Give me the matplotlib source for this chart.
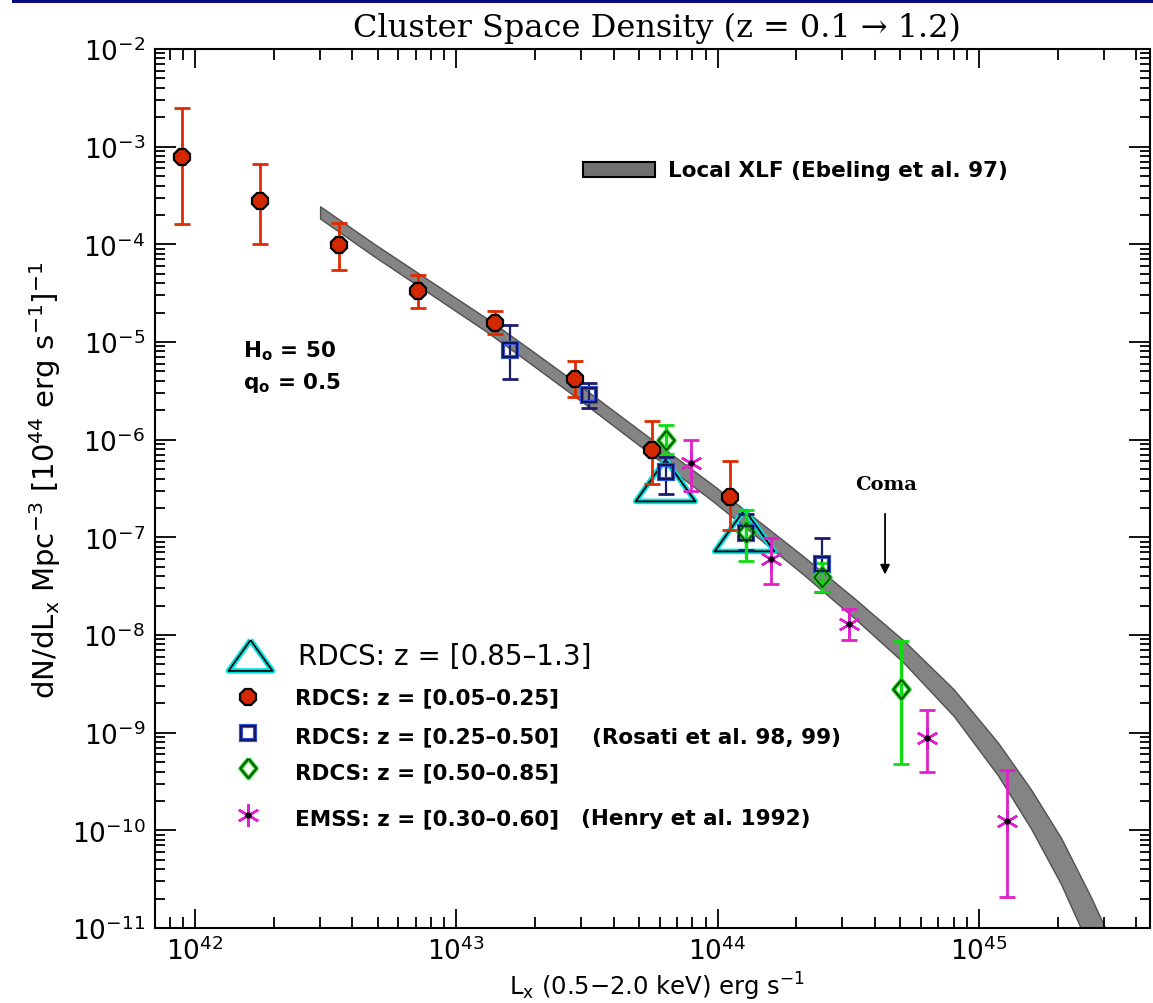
import numpy as np
import matplotlib
matplotlib.use('Agg')
import matplotlib.pyplot as plt
from matplotlib.ticker import LogLocator, FuncFormatter, NullFormatter, FixedLocator
from matplotlib.patches import Rectangle

plt.rcParams['font.family'] = ['DejaVu Sans']
plt.rcParams['mathtext.fontset'] = 'dejavusans'
plt.rcParams['mathtext.default'] = 'regular'

# ---------------- data ----------------
# Local XLF band (Ebeling et al. 97): lower / upper edges
xlf_L  = [3.012e42, 4.809e42, 7.95e42, 1.315e43, 1.92e43, 2.857e43, 4.25e43,
          6.322e43, 9.654e43, 1.374e44, 2.136e44, 3.32e44, 5.159e44, 8.02e44,
          1.182e45, 1.582e45, 2.062e45, 2.686e45, 3.204e45]
xlf_hi = [2.450e-4, 1.027e-4, 4.207e-5, 1.728e-5, 8.37e-6, 3.87e-6, 1.748e-6,
          7.87e-7, 3.394e-7, 1.609e-7, 6.35e-8, 2.404e-8, 8.75e-9, 2.774e-9,
          7.94e-10, 2.63e-10, 8.40e-11, 2.068e-11, 7.43e-12]
xlf_lo = [1.838e-4, 7.65e-5, 3.11e-5, 1.26e-5, 6.03e-6, 2.75e-6, 1.224e-6,
          5.46e-7, 2.315e-7, 1.08e-7, 4.143e-8, 1.508e-8, 5.195e-9, 1.477e-9,
          3.673e-10, 1.048e-10, 2.823e-11, 5.87e-12, 1.954e-12]

# RDCS z = [0.05-0.25]
red_L  = [8.9e41, 1.77e42, 3.57e42, 7.13e42, 1.41e43, 2.84e43, 5.63e43, 1.12e44]
red_n  = [7.9e-4, 2.77e-4, 9.8e-5, 3.35e-5, 1.55e-5, 4.2e-6, 7.9e-7, 2.6e-7]
red_hi = [2.47e-3, 6.6e-4, 1.66e-4, 4.8e-5, 2.07e-5, 6.4e-6, 1.55e-6, 6.05e-7]
red_lo = [1.6e-4, 1.0e-4, 5.4e-5, 2.24e-5, 1.22e-5, 2.74e-6, 3.55e-7, 1.2e-7]

# RDCS z = [0.25-0.50]
blue_L  = [1.61e43, 3.21e43, 6.36e43, 1.28e44, 2.52e44]
blue_n  = [8.2e-6, 2.85e-6, 4.68e-7, 1.12e-7, 5.28e-8]
blue_hi = [1.51e-5, 3.76e-6, 6.7e-7, 1.74e-7, 9.9e-8]
blue_lo = [4.2e-6, 2.12e-6, 2.8e-7, 7.4e-8, 2.76e-8]

# RDCS z = [0.50-0.85]
green_L  = [6.36e43, 1.28e44, 2.52e44, 5.02e44]
green_n  = [9.9e-7, 1.13e-7, 3.93e-8, 2.82e-9]
green_hi = [1.41e-6, 1.9e-7, 5.5e-8, 8.7e-9]
green_lo = [7.2e-7, 5.7e-8, 2.76e-8, 4.75e-10]

# EMSS z = [0.30-0.60]
mag_L  = [7.93e43, 1.6e44, 3.18e44, 6.32e44, 1.28e45]
mag_n  = [5.78e-7, 6.05e-8, 1.29e-8, 8.87e-10, 1.26e-10]
mag_hi = [1.0e-6, 9.9e-8, 1.86e-8, 1.72e-9, 4.1e-10]
mag_lo = [2.96e-7, 3.36e-8, 8.8e-9, 3.96e-10, 2.07e-11]

# RDCS z = [0.85-1.3]
cyan_L = [6.32e43, 1.26e44]
cyan_n = [3.9e-7, 1.2e-7]

# axis decades that carry labels
x_decades = [1e42, 1e43, 1e44, 1e45]
y_decades = [1e-11, 1e-10, 1e-9, 1e-8, 1e-7, 1e-6, 1e-5, 1e-4, 1e-3, 1e-2]

legend_labels = ['RDCS: z = [0.85\u20131.3]', 'RDCS: z = [0.05\u20130.25]',
                 'RDCS: z = [0.25\u20130.50]', 'RDCS: z = [0.50\u20130.85]',
                 'EMSS: z = [0.30\u20130.60]']

# ---------------- figure ----------------
W, H = 1153, 1004
fig = plt.figure(figsize=(W / 100, H / 100), dpi=100)
ax = fig.add_axes([155 / W, 1 - 929 / H, (1150 - 155) / W, (929 - 50) / H])
ax.set_xscale('log')
ax.set_yscale('log')
ax.set_xlim(10 ** 41.847, 10 ** 45.655)
ax.set_ylim(1e-11, 1e-2)

# navy strip at top of the slide
fig.patches.append(Rectangle((12 / W, 1 - 3.5 / H), 1, 3.5 / H, transform=fig.transFigure,
                             facecolor='#0b0b82', edgecolor='none'))

# band
ax.fill_between(xlf_L, xlf_lo, xlf_hi, facecolor='#848484', edgecolor='#505050',
                linewidth=1.0, zorder=1)


def errbars(L, n, lo, hi, color, capcolor, lw=2.0):
    n = np.asarray(n); lo = np.asarray(lo); hi = np.asarray(hi)
    eb = ax.errorbar(L, n, yerr=[n - lo, hi - n], fmt='none', ecolor=color,
                     elinewidth=lw, capsize=6, capthick=2.0, zorder=3)
    for c in eb[1]:
        c.set_color(capcolor)


tri = [(0, 0.7), (-1, -0.7), (1, -0.7), (0, 0.7)]
dia = [(0, 1.2), (1, 0), (0, -1.2), (-1, 0), (0, 1.2)]

# cyan triangles (behind other points)
ax.plot(cyan_L, cyan_n, linestyle='none', marker=tri, markersize=43,
        markerfacecolor='none', markeredgecolor='#00e0e0', markeredgewidth=4, zorder=2)
ax.plot(cyan_L, cyan_n, linestyle='none', marker=tri, markersize=43,
        markerfacecolor='none', markeredgecolor='black', markeredgewidth=1.3, zorder=2.1)

# red
errbars(red_L, red_n, red_lo, red_hi, '#e02a00', 'black')
ax.plot(red_L, red_n, linestyle='none', marker='8', markersize=12,
        markerfacecolor='#d42800', markeredgecolor='black', markeredgewidth=1.6, zorder=5)
# blue
errbars(blue_L, blue_n, blue_lo, blue_hi, '#1c1c6e', '#101040', lw=1.6)
ax.plot(blue_L, blue_n, linestyle='none', marker='s', markersize=10,
        markerfacecolor='none', markeredgecolor='#3050e0', markeredgewidth=3, zorder=5)
ax.plot(blue_L, blue_n, linestyle='none', marker='s', markersize=10,
        markerfacecolor='none', markeredgecolor='#101040', markeredgewidth=1.3, zorder=5.1)
# green
errbars(green_L, green_n, green_lo, green_hi, '#10dd10', '#0a500a', lw=2.4)
ax.plot(green_L, green_n, linestyle='none', marker=dia, markersize=14,
        markerfacecolor='none', markeredgecolor='#10dd10', markeredgewidth=3, zorder=5)
ax.plot(green_L, green_n, linestyle='none', marker=dia, markersize=14,
        markerfacecolor='none', markeredgecolor='#0a400a', markeredgewidth=1.2, zorder=5.1)
# magenta
errbars(mag_L, mag_n, mag_lo, mag_hi, '#e020c8', '#400030', lw=2.0)
ax.plot(mag_L, mag_n, linestyle='none', marker=(6, 2, 0), markersize=16,
        markeredgecolor='#e020d0', markeredgewidth=1.8, zorder=5)
ax.plot(mag_L, mag_n, linestyle='none', marker='o', markersize=3.5,
        markerfacecolor='black', markeredgecolor='black', zorder=5.1)

# ---------------- axes styling ----------------
for s in ax.spines.values():
    s.set_linewidth(1.5)
fmt = FuncFormatter(lambda v, p: r'$10^{%d}$' % int(round(np.log10(v))))
ax.xaxis.set_major_locator(FixedLocator(x_decades))
ax.yaxis.set_major_locator(FixedLocator(y_decades))
for axis in (ax.xaxis, ax.yaxis):
    axis.set_minor_locator(LogLocator(base=10, subs=np.arange(2, 10), numticks=30))
    axis.set_major_formatter(fmt)
    axis.set_minor_formatter(NullFormatter())
ax.tick_params(which='both', direction='in', top=True, right=True, width=1.3,
               labelsize=19)
ax.tick_params(axis='x', which='major', length=13.5, pad=6)
ax.tick_params(axis='x', which='minor', length=8)
ax.tick_params(axis='y', which='major', length=15, pad=7)
ax.tick_params(axis='y', which='minor', length=7)

# titles / labels
fig.text(657 / W, 1 - 37 / H, 'Cluster Space Density (z = 0.1 \u2192 1.2)',
         family='DejaVu Serif', fontsize=23, ha='center', va='baseline')
fig.text(657 / W, 1 - 987 / H, r'L$_x$ (0.5$-$2.0 keV) erg s$^{-1}$',
         fontsize=17.5, ha='center', va='center')
fig.text(45 / W, 1 - 480 / H,
         r'dN/dL$_x$ Mpc$^{-3}$ [10$^{44}$ erg s$^{-1}$]$^{-1}$',
         fontsize=21, rotation=90, ha='center', va='center')

# annotations (axes fraction)
ta = ax.transAxes
ax.text(0.0884, 0.6568, r'H$_o$ = 50', transform=ta, fontsize=15.5, fontweight='bold',
        va='center')
ax.text(0.0884, 0.6212, r'q$_o$ = 0.5', transform=ta, fontsize=15.5, fontweight='bold',
        va='center')
ax.text(0.7347, 0.5051, 'Coma', transform=ta, family='DejaVu Serif', fontsize=14,
        fontweight='bold', ha='center', va='center')
ax.annotate('', xy=(0.7337, 0.399), xytext=(0.7337, 0.4744), xycoords=ta,
            arrowprops=dict(arrowstyle='-|>', color='black', lw=1.3, mutation_scale=14))

# local XLF legend
ax.add_patch(Rectangle((0.4302, 0.8544), 0.0723, 0.017, transform=ta,
                       facecolor='#707070', edgecolor='black', lw=1.5))
ax.text(0.5156, 0.8629, 'Local XLF (Ebeling et al. 97)', transform=ta, fontsize=15.5,
        fontweight='bold', va='center')

# point legend
ax.plot([0.0955], [0.3106], transform=ta, marker=tri, markersize=31.7, linestyle='none',
        markerfacecolor='none', markeredgecolor='#00e0e0', markeredgewidth=4, clip_on=False)
ax.plot([0.0955], [0.3106], transform=ta, marker=tri, markersize=31.7, linestyle='none',
        markerfacecolor='none', markeredgecolor='black', markeredgewidth=1.2, clip_on=False)
ax.plot([0.0935], [0.2628], transform=ta, marker='8', markersize=12, linestyle='none',
        markerfacecolor='#d42800', markeredgecolor='black', markeredgewidth=1.6)
ax.plot([0.0935], [0.2218], transform=ta, marker='s', markersize=10, linestyle='none',
        markerfacecolor='none', markeredgecolor='#3050e0', markeredgewidth=3)
ax.plot([0.0935], [0.2218], transform=ta, marker='s', markersize=10, linestyle='none',
        markerfacecolor='none', markeredgecolor='#101040', markeredgewidth=1.2)
ax.plot([0.0935], [0.1820], transform=ta, marker=dia, markersize=14, linestyle='none',
        markerfacecolor='none', markeredgecolor='#10dd10', markeredgewidth=3)
ax.plot([0.0935], [0.1820], transform=ta, marker=dia, markersize=14, linestyle='none',
        markerfacecolor='none', markeredgecolor='#0a400a', markeredgewidth=1.2)
ax.plot([0.0935], [0.1285], transform=ta, marker=(6, 2, 0), markersize=16, linestyle='none',
        markeredgecolor='#e020d0', markeredgewidth=1.8)
ax.plot([0.0935], [0.1285], transform=ta, marker='o', markersize=3.5, linestyle='none',
        markerfacecolor='black', markeredgecolor='black')

ax.text(0.1437, 0.3094, legend_labels[0], transform=ta, fontsize=20, va='center')
for lab, yy in zip(legend_labels[1:], [0.2628, 0.2184, 0.1775, 0.1251]):
    ax.text(0.1407, yy, lab, transform=ta, fontsize=15.5, fontweight='bold', va='center')
ax.text(0.4392, 0.2173, '(Rosati et al. 98, 99)', transform=ta, fontsize=15.5,
        fontweight='bold', va='center')
ax.text(0.4281, 0.1251, '(Henry et al. 1992)', transform=ta, fontsize=15.5,
        fontweight='bold', va='center')

fig.savefig('out.png', dpi=100)
